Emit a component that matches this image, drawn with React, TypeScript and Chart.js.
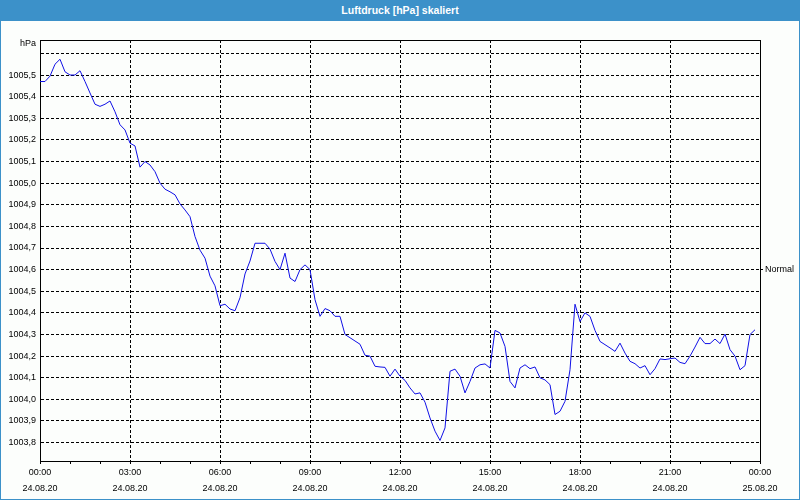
import React, { useEffect, useRef } from "react";
import { Chart, registerables } from "chart.js";

Chart.register(...registerables);

const chartTitle = "Luftdruck [hPa] skaliert";
const unitLabel = "hPa";
const normalLabel = "Normal";
const normalValue = 1004.6;
const sampleMinutes = 10;

// Air pressure (hPa), one value every 10 minutes from 24.08.20 00:00
const pressure = [
  1005.47, 1005.47, 1005.495, 1005.55, 1005.573, 1005.515, 1005.5, 1005.5, 1005.52, 1005.47,
  1005.417, 1005.365, 1005.355, 1005.365, 1005.38, 1005.33, 1005.27, 1005.246, 1005.185, 1005.172,
  1005.074, 1005.1, 1005.084, 1005.053, 1005.0, 1004.972, 1004.96, 1004.946, 1004.904, 1004.876,
  1004.845, 1004.753, 1004.69, 1004.653, 1004.57, 1004.525, 1004.433, 1004.44, 1004.418, 1004.41,
  1004.47, 1004.58, 1004.64, 1004.722, 1004.722, 1004.722, 1004.695, 1004.638, 1004.6, 1004.676,
  1004.561, 1004.545, 1004.6, 1004.622, 1004.6, 1004.461, 1004.384, 1004.42, 1004.41, 1004.384,
  1004.384, 1004.3, 1004.285, 1004.27, 1004.255, 1004.204, 1004.2, 1004.153, 1004.15, 1004.148,
  1004.107, 1004.14, 1004.107, 1004.088, 1004.053, 1004.025, 1004.03, 1003.987, 1003.914, 1003.853,
  1003.81, 1003.868, 1004.13, 1004.14, 1004.107, 1004.03, 1004.083, 1004.145, 1004.16, 1004.164,
  1004.145, 1004.319, 1004.307, 1004.245, 1004.083, 1004.053, 1004.145, 1004.16, 1004.142, 1004.15,
  1004.1, 1004.09, 1004.068, 1003.93, 1003.945, 1003.991, 1004.137, 1004.44, 1004.36, 1004.4,
  1004.384, 1004.319, 1004.268, 1004.253, 1004.238, 1004.222, 1004.26, 1004.214, 1004.176, 1004.165,
  1004.145, 1004.156, 1004.114, 1004.142, 1004.187, 1004.184, 1004.188, 1004.191, 1004.171, 1004.165,
  1004.2, 1004.242, 1004.287, 1004.258, 1004.258, 1004.279, 1004.258, 1004.302, 1004.23, 1004.2,
  1004.137, 1004.156, 1004.3, 1004.322,
];

const yMin = 1003.715;
const yMax = 1005.662;
const yTicks = [
  1003.8, 1003.9, 1004.0, 1004.1, 1004.2, 1004.3, 1004.4, 1004.5, 1004.6, 1004.7,
  1004.8, 1004.9, 1005.0, 1005.1, 1005.2, 1005.3, 1005.4, 1005.5, 1005.6,
];
const yUnlabeled = [1005.6];

const xMinMinutes = 0;
const xMaxMinutes = 1440;
const xMinorStep = 60;
const xTickMinutes = [0, 180, 360, 540, 720, 900, 1080, 1260, 1440];
const xTickTimes = ["00:00", "03:00", "06:00", "09:00", "12:00", "15:00", "18:00", "21:00", "00:00"];
const xTickDates = ["24.08.20", "24.08.20", "24.08.20", "24.08.20", "24.08.20", "24.08.20", "24.08.20", "24.08.20", "25.08.20"];

const FONT = "'Liberation Sans', Arial, sans-serif";
const TITLE_BLUE = "#3c91c9";
const BG = "#fcfefc";
const LINE_BLUE = "#1010e6";

export default function App() {
  const canvasRef = useRef<HTMLCanvasElement | null>(null);

  useEffect(() => {
    const canvas = canvasRef.current;
    if (!canvas) return;

    const points = pressure.map((v, i) => ({ x: i * sampleMinutes, y: v }));

    const framePlugin = {
      id: "frame",
      afterDraw(chart: any) {
        const { ctx, chartArea } = chart;
        ctx.save();
        ctx.strokeStyle = "#000";
        ctx.lineWidth = 1;
        ctx.beginPath();
        ctx.moveTo(chartArea.left, Math.round(chartArea.top) + 0.5);
        ctx.lineTo(chartArea.right, Math.round(chartArea.top) + 0.5);
        ctx.stroke();
        ctx.fillStyle = "#000";
        ctx.font = `9px ${FONT}`;
        ctx.textAlign = "right";
        ctx.textBaseline = "middle";
        ctx.fillText(unitLabel, chartArea.left - 4, chartArea.top + 4);
        ctx.restore();
      },
    };

    const chart = new Chart(canvas, {
      type: "line",
      data: {
        datasets: [
          {
            data: points,
            borderColor: LINE_BLUE,
            borderWidth: 1,
            pointRadius: 0,
            tension: 0,
            fill: false,
          },
        ],
      },
      options: {
        animation: false,
        responsive: false,
        maintainAspectRatio: false,
        layout: { padding: { top: 19, left: 0, right: 0, bottom: 0 } },
        plugins: {
          legend: { display: false },
          title: { display: false },
          tooltip: { enabled: false },
        },
        scales: {
          x: {
            type: "linear",
            min: xMinMinutes,
            max: xMaxMinutes,
            afterFit: (s: any) => {
              s.height = 38;
            },
            grid: {
              color: (c: any) => {
                const v = c.tick ? c.tick.value : -1;
                return xTickMinutes.indexOf(v) > 0 && v < xMaxMinutes ? "#000" : "rgba(0,0,0,0)";
              },
              lineWidth: 1,
              tickColor: "#000",
              tickLength: 3,
              drawTicks: true,
            },
            border: { display: true, color: "#000", width: 1, dash: [3, 2] },
            ticks: {
              stepSize: xMinorStep,
              autoSkip: false,
              maxRotation: 0,
              minRotation: 0,
              padding: 1,
              color: "#000",
              font: { family: FONT, size: 9, lineHeight: 16 / 9 },
              callback: (value: any) => {
                const idx = xTickMinutes.indexOf(Number(value));
                return idx >= 0 ? [xTickTimes[idx], xTickDates[idx]] : "";
              },
            },
          },
          y: {
            type: "linear",
            position: "left",
            min: yMin,
            max: yMax,
            afterBuildTicks: (s: any) => {
              s.ticks = yTicks.map((v) => ({ value: v }));
            },
            afterFit: (s: any) => {
              s.width = 39;
            },
            grid: { color: "#000", lineWidth: 1, drawTicks: false },
            border: { display: true, color: "#000", width: 1, dash: [3, 2] },
            ticks: {
              padding: 4,
              color: "#000",
              font: { family: FONT, size: 9 },
              callback: (value: any) => {
                const n = Number(value);
                if (yUnlabeled.some((u) => Math.abs(u - n) < 1e-6)) return "";
                return n.toFixed(1).replace(".", ",");
              },
            },
          },
          y2: {
            type: "linear",
            position: "right",
            min: yMin,
            max: yMax,
            afterBuildTicks: (s: any) => {
              s.ticks = [{ value: normalValue }];
            },
            afterFit: (s: any) => {
              s.width = 39;
            },
            grid: { drawOnChartArea: false, drawTicks: true, tickLength: 3, tickColor: "#000" },
            border: { display: true, color: "#000", width: 1 },
            ticks: {
              padding: 2,
              color: "#000",
              font: { family: FONT, size: 9 },
              callback: () => normalLabel,
            },
          },
        },
      },
      plugins: [framePlugin],
    } as any);

    return () => {
      chart.destroy();
    };
  }, []);

  return (
    <div
      style={{
        position: "absolute",
        left: 0,
        top: 0,
        width: 800,
        height: 500,
        background: TITLE_BLUE,
        overflow: "hidden",
      }}
    >
      <div
        style={{
          position: "absolute",
          left: 0,
          top: 0,
          width: 800,
          height: 21,
          lineHeight: "20px",
          textAlign: "center",
          color: "#fff",
          fontFamily: FONT,
          fontWeight: "bold",
          fontSize: "10.5px",
        }}
      >
        {chartTitle}
      </div>
      <div
        style={{
          position: "absolute",
          left: 1,
          top: 21,
          width: 798,
          height: 478,
          background: BG,
        }}
      >
        <canvas ref={canvasRef} width={798} height={478} style={{ display: "block", width: 798, height: 478 }} />
      </div>
    </div>
  );
}
